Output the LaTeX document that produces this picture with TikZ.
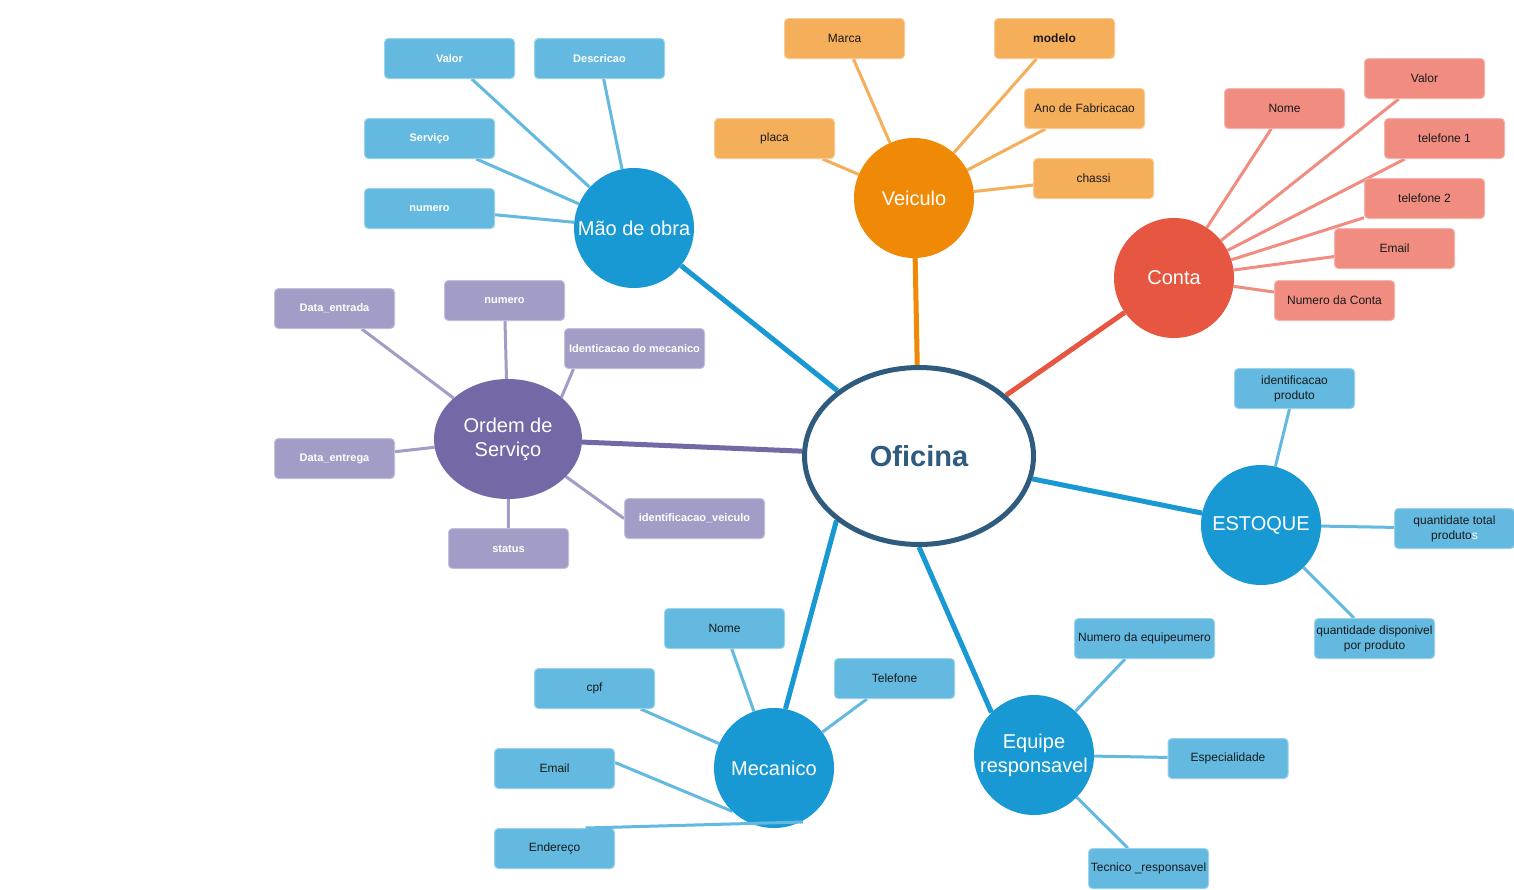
\documentclass[tikz,border=0pt]{standalone}
\usepackage{fontspec}
\setmainfont{Liberation Sans}
\usetikzlibrary{shapes.geometric,backgrounds,calc}
\definecolor{hubblue}{HTML}{1899D3}
\definecolor{leafblue}{HTML}{63B9E0}
\definecolor{hubor}{HTML}{F08A06}
\definecolor{leafor}{HTML}{F5AE5A}
\definecolor{hubred}{HTML}{E75640}
\definecolor{leafred}{HTML}{F08C80}
\definecolor{hubpur}{HTML}{7469A6}
\definecolor{leafpur}{HTML}{A29DC6}
\definecolor{ofblue}{HTML}{2E5B7E}
\definecolor{txt}{HTML}{1A1A1A}
\begin{document}
\begin{tikzpicture}[x=1pt,y=-1pt,
  leafbox/.style={rectangle, rounded corners=4pt, minimum width=120pt, minimum height=40pt,
    inner sep=0pt, line width=1pt, align=center},
  leafb/.style={leafbox, fill=leafblue, draw=leafblue!65!white, text=txt, font=\fontsize{12}{15}\selectfont},
  leafw/.style={leafbox, minimum width=130pt, fill=leafblue, draw=leafblue!65!white, text=white, font=\fontsize{11}{13}\selectfont\bfseries},
  leafo/.style={leafbox, fill=leafor, draw=leafor!65!white, text=txt, font=\fontsize{12}{14}\selectfont},
  leafr/.style={leafbox, fill=leafred, draw=leafred!65!white, text=txt, font=\fontsize{12}{14}\selectfont},
  leafp/.style={leafbox, fill=leafpur, draw=leafpur!65!white, text=white, font=\fontsize{11}{13}\selectfont\bfseries},
  hub/.style={circle, minimum size=120pt, inner sep=0pt, text=white, align=center, font=\fontsize{20}{24}\selectfont},
  oficinanode/.style={ellipse, minimum width=229pt, minimum height=177pt, inner sep=0pt, fill=white,
    draw=ofblue, line width=5pt, text=ofblue, font=\fontsize{29}{32}\selectfont\bfseries},
  mainline/.style={line width=5pt},
  leafline/.style={line width=3pt},
]
\useasboundingbox (0,0) rectangle (1514,889);

% centre
\node[oficinanode] (of) at (919,456) {Oficina};

% Mao de obra
\node[hub, fill=hubblue] (mao) at (634,228) {Mão de obra};
\node[leafw] (m1) at (449.5,58.5) {Valor};
\node[leafw] (m2) at (599.5,58.5) {Descricao};
\node[leafw] (m3) at (429.5,138.5) {Serviço};
\node[leafw] (m4) at (429.5,208.5) {numero};

% Veiculo
\node[hub, fill=hubor] (vei) at (914,198) {Veiculo};
\node[leafo] (v1) at (844.5,38.5) {Marca};
\node[leafo, font=\fontsize{12}{14}\selectfont\bfseries] (v2) at (1054.5,38.5) {modelo};
\node[leafo] (v3) at (774.5,138.5) {placa};
\node[leafo] (v4) at (1084.5,108.5) {Ano de Fabricacao};
\node[leafo] (v5) at (1093.5,178.5) {chassi};

% Conta
\node[hub, fill=hubred] (con) at (1174,278) {Conta};
\node[leafr] (c1) at (1424.5,78.5) {Valor};
\node[leafr] (c2) at (1284.5,108.5) {Nome};
\node[leafr] (c3) at (1444.5,138.5) {telefone 1};
\node[leafr] (c4) at (1424.5,198.5) {telefone 2};
\node[leafr] (c5) at (1394.5,248.5) {Email};
\node[leafr] (c6) at (1334.5,300.5) {Numero da Conta};

% Ordem de Servico
\node[ellipse, fill=hubpur, minimum width=148pt, minimum height=120pt, inner sep=0pt, text=white,
  align=center, font=\fontsize{20}{24}\selectfont] (ord) at (508,439) {Ordem de\\Serviço};
\node[leafp] (p1) at (334.5,308.5) {Data\_entrada};
\node[leafp] (p2) at (504.5,300.5) {numero};
\node[leafp, minimum width=140pt] (p3) at (634.5,348.5) {Identicacao do mecanico};
\node[leafp] (p4) at (334.5,458.5) {Data\_entrega};
\node[leafp] (p5) at (508.5,548.5) {status};
\node[leafp, minimum width=140pt] (p6) at (694.5,518.5) {identificacao\_veiculo};

% ESTOQUE
\node[hub, fill=hubblue] (est) at (1261,525) {ESTOQUE};
\node[leafb] (e1) at (1294.5,388.5) {identificacao\\produto};
\node[leafb] (e2) at (1454.5,528.5) {quantidate total\\produto{\color{white}s}};
\node[leafb] (e3) at (1374.5,638.5) {quantidade disponivel\\por produto};

% Equipe responsavel
\node[hub, fill=hubblue] (equ) at (1034,755) {Equipe\\responsavel};
\node[leafb, minimum width=140pt] (q1) at (1144.5,638.5) {Numero da equipeumero};
\node[leafb] (q2) at (1228,758.5) {Especialidade};
\node[leafb] (q3) at (1148.5,868.5) {Tecnico \_responsavel};

% Mecanico
\node[hub, fill=hubblue] (mec) at (774,768) {Mecanico};
\node[leafb] (k1) at (724.5,628.5) {Nome};
\node[leafb] (k2) at (594.5,688.5) {cpf};
\node[leafb] (k3) at (894.5,678.5) {Telefone};
\node[leafb] (k4) at (554.5,768.5) {Email};
\node[leafb] (k5) at (554.5,848.5) {Endereço};
\coordinate (endtip) at (803,822);

\begin{scope}[on background layer]
  \fill[white] (0,0) rectangle (1514,889);
  % main connectors
  \draw[mainline, hubblue] (of) -- (mao);
  \draw[mainline, hubor] (of) -- (vei);
  \draw[mainline, hubred] (of) -- (con);
  \draw[mainline, hubpur] (of) -- (ord);
  \draw[mainline, hubblue] (of) -- (est);
  \draw[mainline, hubblue] (of.south) -- (equ.135);
  \draw[mainline, hubblue] (of.218) -- (mec.79);
  % Mao de obra
  \foreach \n in {m1,m2,m3,m4} \draw[leafline, leafblue] (\n) -- (mao);
  % Veiculo
  \foreach \n in {v1,v2,v3,v4,v5} \draw[leafline, leafor] (\n) -- (vei);
  % Conta
  \foreach \n in {c1,c2,c3,c4,c5,c6} \draw[leafline, leafred] (\n) -- (con);
  % Ordem
  \foreach \n in {p1,p2,p4,p5} \draw[leafline, leafpur] (\n) -- (ord);
  \draw[leafline, leafpur] ($(p3.south)+(-61,0)$) -- (ord.38);
  \draw[leafline, leafpur] (p6.west) -- (ord.327);
  % ESTOQUE
  \foreach \n in {e1,e2,e3} \draw[leafline, leafblue] (\n) -- (est);
  % Equipe
  \foreach \n in {q1,q2,q3} \draw[leafline, leafblue] (\n) -- (equ);
  % Mecanico
  \foreach \n in {k1,k2,k3} \draw[leafline, leafblue] (\n) -- (mec);
  \draw[leafline, leafblue] ($(k4.east)+(0,-6)$) -- (mec.226);
\end{scope}
\draw[leafline, leafblue] ($(k5.north)+(31,0)$) -- (endtip);
\end{tikzpicture}
\end{document}
